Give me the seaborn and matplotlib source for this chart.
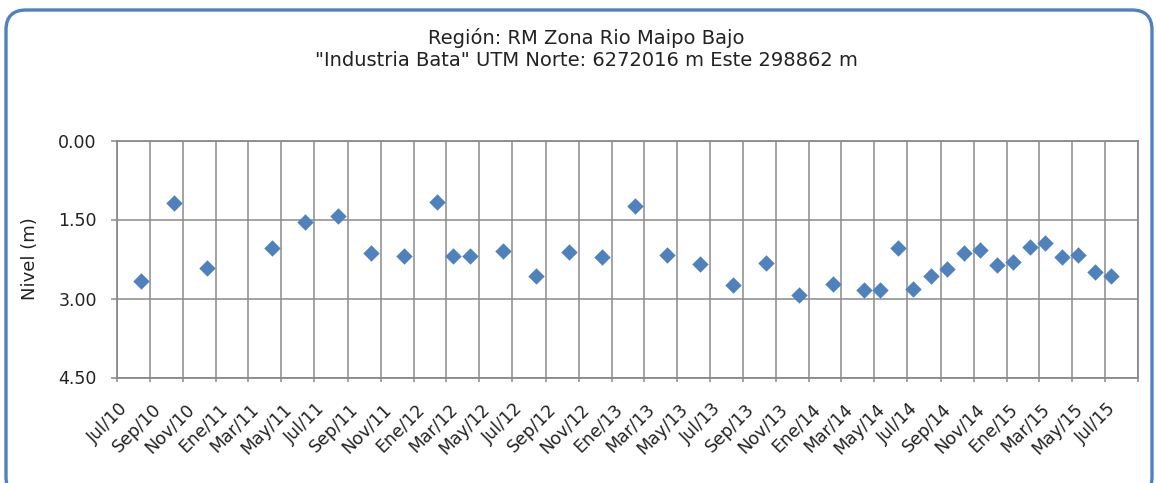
import matplotlib
matplotlib.use("Agg")
import matplotlib.pyplot as plt
from matplotlib.patches import FancyBboxPatch
from matplotlib.transforms import IdentityTransform, ScaledTranslation
from matplotlib.ticker import FuncFormatter
import pandas as pd
import seaborn as sns

# Fechas de medición y nivel del agua (m bajo superficie)
fechas = [
    "2010-08-15", "2010-10-15", "2010-12-14", "2011-04-14", "2011-06-14",
    "2011-08-14", "2011-10-14", "2011-12-14", "2012-02-13", "2012-03-14",
    "2012-04-14", "2012-06-13", "2012-08-14", "2012-10-14", "2012-12-14",
    "2013-02-13", "2013-04-13", "2013-06-13", "2013-08-13", "2013-10-13",
    "2013-12-13", "2014-02-13", "2014-04-12", "2014-05-12", "2014-06-13",
    "2014-07-12", "2014-08-13", "2014-09-13", "2014-10-13", "2014-11-13",
    "2014-12-13", "2015-01-12", "2015-02-13", "2015-03-12", "2015-04-13",
    "2015-05-12", "2015-06-13", "2015-07-12",
]
nivel = [
    2.67, 1.19, 2.43, 2.05, 1.55,
    1.44, 2.14, 2.20, 1.16, 2.20,
    2.20, 2.10, 2.57, 2.11, 2.22,
    1.25, 2.17, 2.35, 2.75, 2.32,
    2.93, 2.72, 2.83, 2.83, 2.04,
    2.82, 2.57, 2.44, 2.14, 2.07,
    2.36, 2.31, 2.03, 1.95, 2.22,
    2.18, 2.50, 2.57,
]
etiquetas_x = [
    "Jul/10", "Sep/10", "Nov/10", "Ene/11", "Mar/11", "May/11", "Jul/11",
    "Sep/11", "Nov/11", "Ene/12", "Mar/12", "May/12", "Jul/12", "Sep/12",
    "Nov/12", "Ene/13", "Mar/13", "May/13", "Jul/13", "Sep/13", "Nov/13",
    "Ene/14", "Mar/14", "May/14", "Jul/14", "Sep/14", "Nov/14", "Ene/15",
    "Mar/15", "May/15", "Jul/15", "",
]
ticks_y = [0.0, 1.5, 3.0, 4.5]
titulo_1 = "Región: RM Zona Rio Maipo Bajo"
titulo_2 = "\"Industria Bata\" UTM Norte: 6272016 m Este 298862 m"

sns.set_theme(style="white")
plt.rcParams["font.family"] = ["DejaVu Sans"]

W, H = 1156, 483
fig = plt.figure(figsize=(W / 100, H / 100), dpi=100)
fig.patch.set_facecolor("white")

# Marco redondeado del gráfico
marco = FancyBboxPatch((6, -14), 1146, 487, boxstyle="round,pad=0,rounding_size=20",
                       transform=IdentityTransform(), facecolor="none",
                       edgecolor="#4F81BD", linewidth=2.4, zorder=0)
fig.patches.append(marco)

x0, x1, y0, y1 = 116.7, 1138.3, 140.5, 377.5
ax = fig.add_axes([x0 / W, 1 - y1 / H, (x1 - x0) / W, (y1 - y0) / H])

df = pd.DataFrame({"fecha": pd.to_datetime(fechas), "nivel": nivel})
sns.scatterplot(data=df, x="fecha", y="nivel", marker="D", s=70,
                color="#4F81BD", linewidth=0, ax=ax, zorder=3, legend=False)

gris = "#8a8a8a"
ax.grid(True, color=gris, linewidth=1.1)
ax.set_axisbelow(True)
for sp in ax.spines.values():
    sp.set_color(gris)
    sp.set_linewidth(1.3)

ax.set_ylim(4.5, 0)
ax.set_yticks(ticks_y)
ax.yaxis.set_major_formatter(FuncFormatter(lambda v, p: f"{v:.2f}"))
ax.tick_params(axis="y", labelsize=12.5, labelcolor="#222222", pad=10,
               direction="out", length=4.3, width=1.1, color=gris, left=True)
ax.tick_params(axis="x", pad=18, direction="out", length=2.9, width=1.1,
               color=gris, bottom=True)

ax.set_xlabel("")
ax.set_ylabel("Nivel (m)", fontsize=13, color="#222222")
ax.yaxis.set_label_coords(-0.076, 0.5)

ticks_x = pd.date_range("2010-07-01", "2015-09-01", freq="2MS")
ax.set_xlim(ticks_x[0], ticks_x[-1])
ax.set_xticks(ticks_x)
etiquetas = ax.set_xticklabels(etiquetas_x, rotation=45, ha="right", va="center",
                               rotation_mode="anchor", fontsize=12.5, color="#222222")
desplaza = ScaledTranslation(8 / 100, 0, fig.dpi_scale_trans)
for lbl in etiquetas:
    lbl.set_transform(lbl.get_transform() + desplaza)

fig.text(586 / W, 1 - 38 / H, titulo_1, ha="center", va="center", fontsize=14, color="#222222")
fig.text(586 / W, 1 - 61 / H, titulo_2, ha="center", va="center", fontsize=14, color="#222222")

fig.savefig("out.png", dpi=100)
